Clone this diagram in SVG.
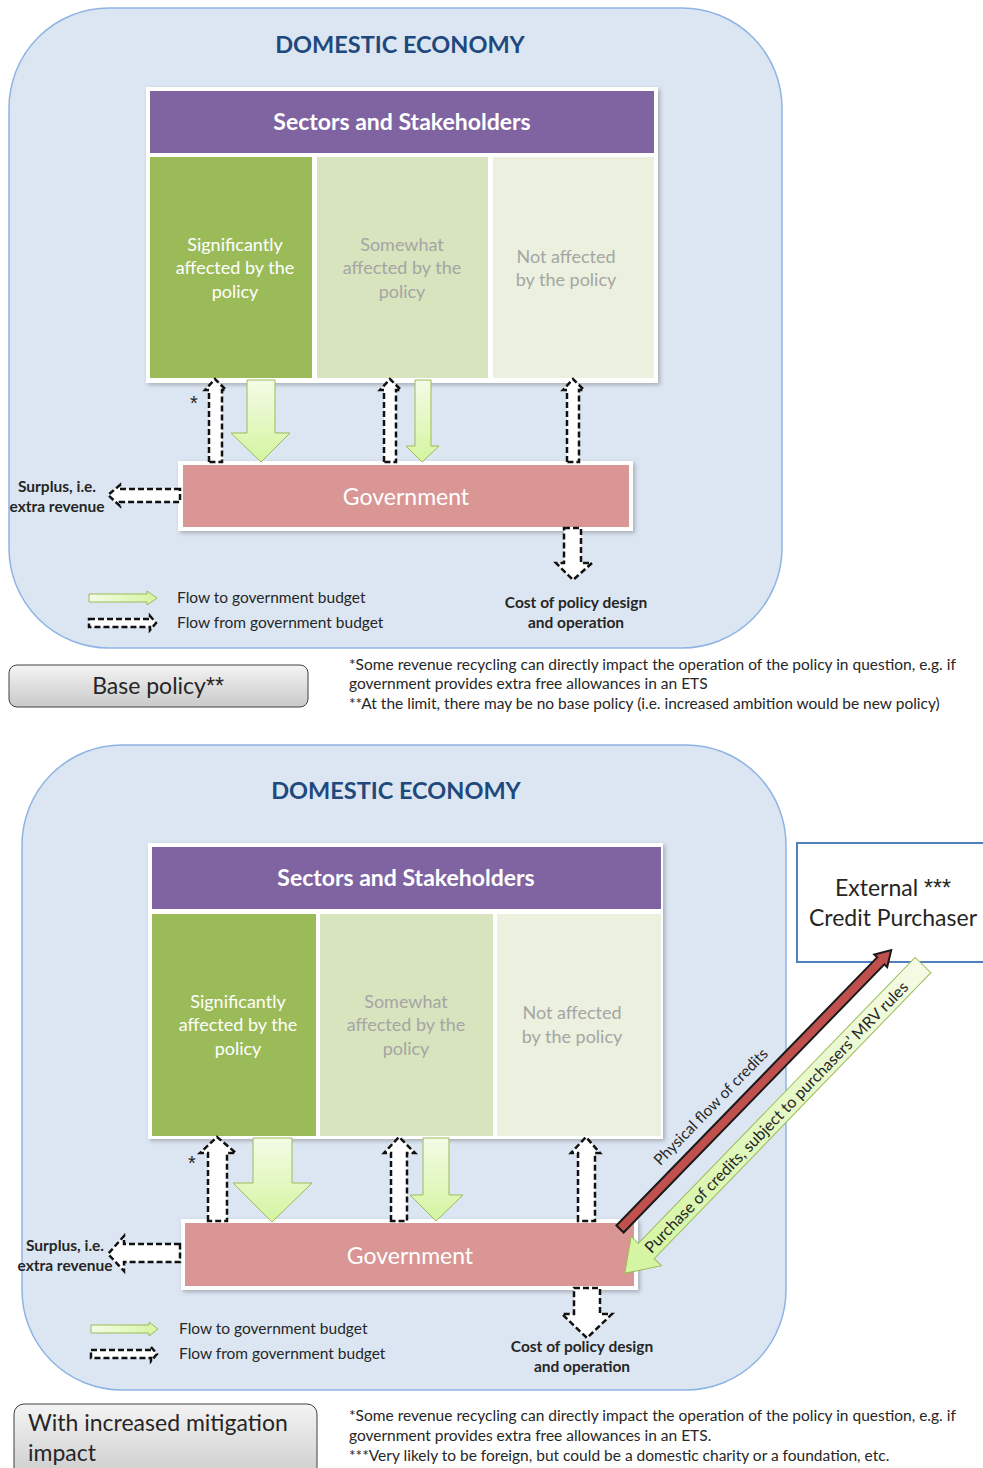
<svg xmlns="http://www.w3.org/2000/svg" width="983" height="1468" viewBox="0 0 983 1468">
<defs>
<linearGradient id="gArrow" x1="0" y1="0" x2="0" y2="1">
<stop offset="0" stop-color="#f4fbe6"/>
<stop offset="1" stop-color="#d4f5a0"/>
</linearGradient>
<linearGradient id="gArrowH" x1="0" y1="0" x2="1" y2="0">
<stop offset="0" stop-color="#f4fbe6"/>
<stop offset="1" stop-color="#d4f5a0"/>
</linearGradient>
<linearGradient id="gBox" x1="0" y1="0" x2="0" y2="1">
<stop offset="0" stop-color="#f4f4f4"/>
<stop offset="1" stop-color="#c9c9c9"/>
</linearGradient>
<filter id="sh" x="-5%" y="-5%" width="115%" height="120%">
<feDropShadow dx="2" dy="2" stdDeviation="2" flood-color="#000" flood-opacity="0.25"/>
</filter>
</defs>
<style>
text{font-family:Lato,"Liberation Sans",sans-serif;}
.panel{fill:#dce6f2;stroke:#8eb4e3;stroke-width:1.5;}
.title{font-size:23.5px;font-weight:bold;fill:#1f497d;text-anchor:middle;}
.hdr{fill:#8064a2;}
.hdrt{font-size:23px;font-weight:bold;fill:#fff;text-anchor:middle;}
.c1{fill:#9bbb59;}
.c2{fill:#d7e4bd;}
.c3{fill:#ebf1de;}
.ct{font-size:18px;text-anchor:middle;}
.w{fill:#fff;}
.g{fill:#a5a5a5;}
.gov{fill:#d99694;}
.govt{font-size:23px;fill:#fff;text-anchor:middle;}
.dash{fill:#fff;stroke:#111;stroke-width:2.5;stroke-dasharray:6 3;}
.grn{fill:url(#gArrow);stroke:#9bbb59;stroke-width:1;}
.grnh{fill:url(#gArrowH);stroke:#9bbb59;stroke-width:1;}
.lbl{font-size:15.5px;font-weight:bold;fill:#262626;text-anchor:middle;}
.leg{font-size:15.5px;fill:#262626;}
.note{font-size:15.5px;fill:#262626;}
.star{font-size:20px;fill:#262626;font-family:"Liberation Sans",sans-serif;}
.ast{font-family:"Liberation Sans",sans-serif;}
.btn{fill:url(#gBox);stroke:#404040;stroke-width:1;}
.big{font-size:23px;fill:#262626;}
</style>

<!-- ===== TOP PANEL ===== -->
<g id="top-economy">
<rect class="panel" x="9" y="8" width="773" height="640" rx="100" ry="100"/>
<text class="title" x="400" y="53">DOMESTIC ECONOMY</text>
</g>
<g id="top-sectors">
<rect x="146" y="87" width="512" height="296" fill="#fff" filter="url(#sh)"/>
<rect class="hdr" x="150" y="91" width="504" height="62"/>
<text class="hdrt" x="402" y="130">Sectors and Stakeholders</text>
</g>
<g id="top-significant">
<rect class="c1" x="150" y="157" width="162" height="221"/>
<text class="ct w" x="235" y="251">Significantly</text>
<text class="ct w" x="235" y="274">affected by the</text>
<text class="ct w" x="235" y="298">policy</text>
</g>
<g id="top-somewhat">
<rect class="c2" x="317" y="157" width="171" height="221"/>
<text class="ct g" x="402" y="251">Somewhat</text>
<text class="ct g" x="402" y="274">affected by the</text>
<text class="ct g" x="402" y="298">policy</text>
</g>
<g id="top-notaffected">
<rect class="c3" x="493" y="157" width="161" height="221"/>
<text class="ct g" x="566" y="263">Not affected</text>
<text class="ct g" x="566" y="286">by the policy</text>
</g>
<g id="top-government">
<rect x="178" y="461" width="455" height="70" fill="#fff" filter="url(#sh)"/>
<rect class="gov" x="183" y="465" width="446" height="62"/>
<text class="govt" x="406" y="505">Government</text>
</g>
<g id="top-surplus">
<text class="lbl" x="57" y="492">Surplus, i.e.</text>
<text class="lbl" x="57" y="512">extra revenue</text>
</g>
<g id="top-cost">
<text class="lbl" x="576" y="608">Cost of policy design</text>
<text class="lbl" x="576" y="628">and operation</text>
</g>
<g id="top-legend">
<polygon class="grnh" points="89,594 147,594 147,591 157,598 147,605 147,602 89,602"/>
<polygon class="dash" points="89,619 150,619 150,616 156,623 150,630 150,627 89,627" stroke-width="2"/>
<text class="leg" x="177" y="603">Flow to government budget</text>
<text class="leg" x="177" y="628">Flow from government budget</text>
</g>
<g id="top-connectors">
<polygon class="dash" points="209,462 209,390 205,390 215,379 226,390 222,390 222,462"/>
<polygon class="grn" points="247,380 275,380 275,433 290,433 261,462 231,433 247,433"/>
<polygon class="dash" points="384,462 384,390 380,390 390,379 401,390 396,390 396,462"/>
<polygon class="grn" points="415,380 431,380 431,446 439,446 422,462 406,446 415,446"/>
<polygon class="dash" points="567,462 567,390 563,390 573,379 584,390 579,390 579,462"/>
<polygon class="dash" points="180,489 120,489 120,485 108,495 120,506 120,502 180,502"/>
<polygon class="dash" points="564,528 581,528 581,563 592,563 573,580 556,563 564,563"/>
<text class="star" x="190" y="410">*</text>
</g>
<g id="top-label">
<rect class="btn" x="9" y="665" width="299" height="42" rx="8" ry="8"/>
<text class="big" x="158" y="694" font-size="23.5" text-anchor="middle">Base policy<tspan class="ast">**</tspan></text>
</g>
<g id="top-notes">
<text class="note" x="349" y="670">*Some revenue recycling can directly impact the operation of the  policy in question, e.g. if</text>
<text class="note" x="349" y="689">government  provides extra free  allowances in an ETS</text>
<text class="note" x="349" y="709">**At the limit, there may be no base policy (i.e. increased ambition would be new policy)</text>
</g>

<!-- ===== BOTTOM PANEL ===== -->
<g id="bot-economy">
<rect class="panel" x="22" y="745" width="764" height="645" rx="100" ry="100"/>
<text class="title" x="396" y="799">DOMESTIC ECONOMY</text>
</g>
<g id="bot-sectors">
<rect x="148" y="843" width="515" height="296" fill="#fff" filter="url(#sh)"/>
<rect class="hdr" x="152" y="847" width="509" height="62"/>
<text class="hdrt" x="406" y="886">Sectors and Stakeholders</text>
</g>
<g id="bot-significant">
<rect class="c1" x="152" y="914" width="164" height="222"/>
<text class="ct w" x="238" y="1008">Significantly</text>
<text class="ct w" x="238" y="1031">affected by the</text>
<text class="ct w" x="238" y="1055">policy</text>
</g>
<g id="bot-somewhat">
<rect class="c2" x="320" y="914" width="173" height="222"/>
<text class="ct g" x="406" y="1008">Somewhat</text>
<text class="ct g" x="406" y="1031">affected by the</text>
<text class="ct g" x="406" y="1055">policy</text>
</g>
<g id="bot-notaffected">
<rect class="c3" x="497" y="914" width="164" height="222"/>
<text class="ct g" x="572" y="1019">Not affected</text>
<text class="ct g" x="572" y="1043">by the policy</text>
</g>
<g id="bot-government">
<rect x="181" y="1219" width="457" height="71" fill="#fff" filter="url(#sh)"/>
<rect class="gov" x="185" y="1223" width="449" height="63"/>
<text class="govt" x="410" y="1264">Government</text>
</g>
<g id="bot-external">
<rect x="797" y="843" width="200" height="119" fill="#fff" stroke="#4f81bd" stroke-width="2"/>
<text class="big" x="893" y="896" text-anchor="middle">External <tspan class="ast">***</tspan></text>
<text class="big" x="893" y="926" text-anchor="middle">Credit Purchaser</text>
</g>
<g id="bot-surplus">
<text class="lbl" x="65" y="1251">Surplus, i.e.</text>
<text class="lbl" x="65" y="1271">extra revenue</text>
</g>
<g id="bot-cost">
<text class="lbl" x="582" y="1352">Cost of policy design</text>
<text class="lbl" x="582" y="1372">and operation</text>
</g>
<g id="bot-legend">
<polygon class="grnh" points="91,1325 149,1325 149,1322 158,1329 149,1336 149,1333 91,1333"/>
<polygon class="dash" points="91,1350 151,1350 151,1347 157,1354 151,1361 151,1358 91,1358" stroke-width="2"/>
<text class="leg" x="179" y="1334">Flow to government budget</text>
<text class="leg" x="179" y="1359">Flow from government budget</text>
</g>
<g id="bot-connectors">
<polygon class="dash" points="208,1221 208,1153 200,1153 217,1137 236,1153 227,1153 227,1221"/>
<polygon class="grn" points="253,1138 292,1138 292,1183 312,1183 272,1222 233,1183 253,1183"/>
<polygon class="dash" points="391,1221 391,1153 384,1153 399,1137 415,1153 407,1153 407,1221"/>
<polygon class="grn" points="423,1138 449,1138 449,1195 463,1195 436,1221 410,1195 423,1195"/>
<polygon class="dash" points="578,1221 578,1153 571,1153 586,1137 600,1153 595,1153 595,1221"/>
<polygon class="dash" points="180,1244 124,1244 124,1236 108,1254 124,1271 124,1262 180,1262"/>
<polygon class="dash" points="574,1288 600,1288 600,1314 612,1314 587,1338 562,1314 574,1314"/>
<text class="star" x="188" y="1170">*</text>
<g transform="translate(620,1229) rotate(-45.8)">
<polygon points="0,-5 374,-5 374,-9 389,0 374,9 374,5 0,5" fill="#c0504d" stroke="#1a1a1a" stroke-width="2"/>
</g>
<g transform="translate(923,965) rotate(134.05)">
<polygon class="grnh" points="0,-11 398,-11 398,-21 429,0 398,21 398,11 0,11"/>
</g>
<text transform="translate(711,1107) rotate(-45.8)" x="0" y="5" font-size="15.5" fill="#262626" text-anchor="middle">Physical flow of credits</text>
<text transform="translate(776,1117) rotate(-45.9)" x="0" y="6" font-size="16" fill="#262626" text-anchor="middle">Purchase of credits, subject to purchasers’ MRV rules</text>
</g>
<g id="bot-label">
<rect class="btn" x="14" y="1404" width="303" height="80" rx="10" ry="10"/>
<text class="big" x="28" y="1431" font-size="23.3">With increased mitigation</text>
<text class="big" x="28" y="1461" font-size="23.3">impact</text>
</g>
<g id="bot-notes">
<text class="note" x="349" y="1421">*Some revenue recycling can directly impact the operation of the policy in question, e.g. if</text>
<text class="note" x="349" y="1441">government  provides extra free  allowances in an ETS.</text>
<text class="note" x="349" y="1461">***Very likely to be foreign, but could be a domestic charity or a foundation, etc.</text>
</g>
</svg>
